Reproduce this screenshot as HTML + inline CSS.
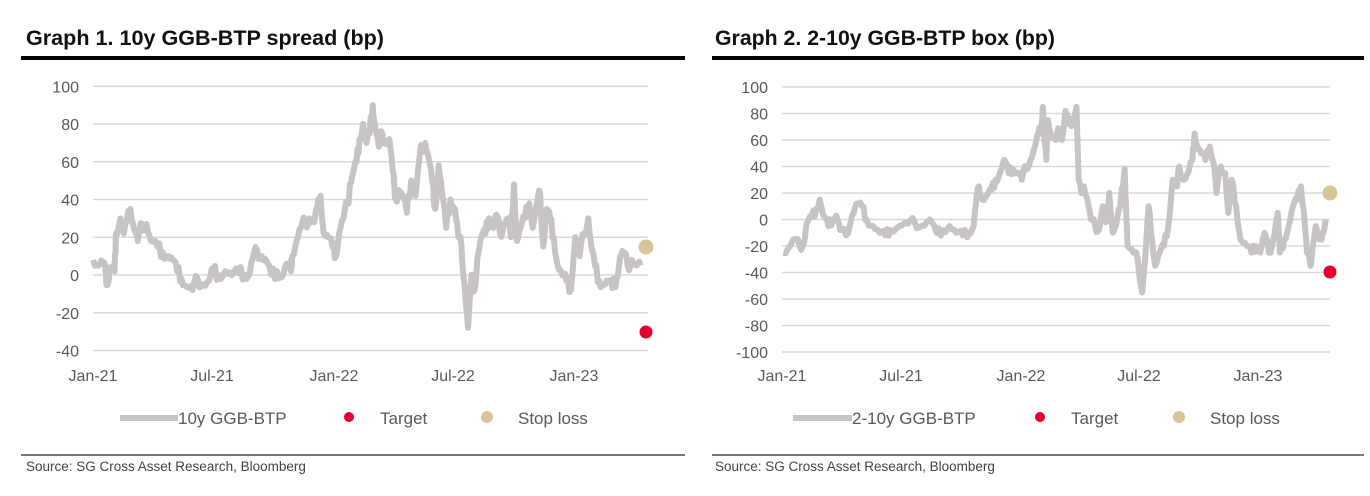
<!DOCTYPE html>
<html><head><meta charset="utf-8"><style>
body{margin:0;background:#fff;width:1370px;height:496px;overflow:hidden}
svg{position:absolute;left:0;top:0}
text{font-family:"Liberation Sans",sans-serif}
</style></head><body>
<svg width="1370" height="496" viewBox="0 0 1370 496" id="s">
<rect width="1370" height="496" fill="#fff"/>
<text x="26" y="45" font-size="21" font-weight="bold" fill="#111" textLength="358" lengthAdjust="spacingAndGlyphs">Graph 1. 10y GGB-BTP spread (bp)</text>
<rect x="21" y="56" width="664" height="4" fill="#000"/>
<text x="715" y="45" font-size="21" font-weight="bold" fill="#111" textLength="340" lengthAdjust="spacingAndGlyphs">Graph 2. 2-10y GGB-BTP box (bp)</text>
<rect x="712" y="56" width="652" height="4" fill="#000"/>
<g id="g1" font-size="16" fill="#595959"></g>
<g id="g2" font-size="16" fill="#595959"></g>
<line x1="120" y1="418" x2="178" y2="418" stroke="#c8c4c4" stroke-width="6"/>
<text x="178" y="424" font-size="17" fill="#595959">10y GGB-BTP</text>
<circle cx="349" cy="417" r="5" fill="#e4002b"/>
<text x="380" y="424" font-size="17" fill="#595959">Target</text>
<circle cx="487" cy="417" r="6" fill="#d8c69a"/>
<text x="518" y="424" font-size="17" fill="#595959">Stop loss</text>
<line x1="793" y1="418" x2="852" y2="418" stroke="#c8c4c4" stroke-width="6"/>
<text x="852" y="424" font-size="17" fill="#595959">2-10y GGB-BTP</text>
<circle cx="1040" cy="417" r="5" fill="#e4002b"/>
<text x="1071" y="424" font-size="17" fill="#595959">Target</text>
<circle cx="1179" cy="417" r="6" fill="#d8c69a"/>
<text x="1210" y="424" font-size="17" fill="#595959">Stop loss</text>
<rect x="21" y="454" width="664" height="2" fill="#777"/>
<rect x="712" y="454" width="652" height="2" fill="#777"/>
<text x="26" y="471" font-size="13.5" fill="#444">Source: SG Cross Asset Research, Bloomberg</text>
<text x="715" y="471" font-size="13.5" fill="#444">Source: SG Cross Asset Research, Bloomberg</text>
</svg>
<script>
var NS="http://www.w3.org/2000/svg";
function el(p,t,a,txt){var e=document.createElementNS(NS,t);for(var k in a)e.setAttribute(k,a[k]);if(txt!==undefined)e.textContent=txt;p.appendChild(e);return e;}
function chart(g,x0,x1,ticks,yf,xl,xlx,data,off,tgt,stp){
 g=document.getElementById(g);
 ticks.forEach(function(v){var y=yf(v);el(g,'line',{x1:x0,x2:x1,y1:y,y2:y,stroke:'#d9d9d9','stroke-width':1.5});el(g,'text',{x:x0-14,y:y+6,'text-anchor':'end'},v);});
 xl.forEach(function(l,i){el(g,'text',{x:xlx[i],y:381,'text-anchor':'middle'},l);});
 var pts=[];
 for(var i=0;i<data.length-2;i+=2){
  var xa=off+data[i]*0.4374,xb=off+data[i+2]*0.4374,va=data[i+1],vb=data[i+3];
  for(var k=0;k<3;k++){var t=k/3;var j=(k==0?0:((i*7+k*13)%11-5)*0.7);
   pts.push((xa+(xb-xa)*t).toFixed(1)+','+yf(va+(vb-va)*t+j).toFixed(1));}
 }
 pts.push((off+data[data.length-2]*0.4374).toFixed(1)+','+yf(data[data.length-1]).toFixed(1));
 el(g,'polyline',{points:pts.join(' '),fill:'none',stroke:'#c8c4c4','stroke-width':6,'stroke-linejoin':'round'});
 el(g,'circle',{cx:tgt[0],cy:tgt[1],r:6.5,fill:'#e4002b'});
 el(g,'circle',{cx:stp[0],cy:stp[1],r:7.5,fill:'#d8c69a'});
}
var d1=[213,8,225,5,235,7,242,0,246,-5,252,4,262,2,265,22,275,30,283,22,290,28,298,35,306,25,315,18,325,27,335,27,345,18,360,15,372,12,385,10,395,8,405,2,415,-2,425,-6,440,-8,452,-2,465,-5,478,-3,487,3,500,0,515,2,530,0,545,1,560,0,570,0,577,8,588,13,598,10,608,8,620,0,633,2,645,-1,655,6,665,2,668,10,678,18,688,25,698,28,708,30,718,28,725,35,733,42,740,22,750,20,760,15,768,10,775,22,785,30,795,38,800,48,808,55,815,60,822,72,830,80,838,70,845,75,852,90,858,78,866,68,874,75,882,70,890,72,898,55,905,40,912,45,920,42,930,33,940,50,950,42,958,60,965,68,972,70,980,62,988,50,995,35,1003,58,1010,45,1020,25,1030,40,1040,35,1048,20,1055,15,1062,-5,1070,-28,1078,0,1085,-8,1092,10,1100,20,1110,22,1118,30,1128,25,1135,32,1143,22,1152,27,1160,30,1168,20,1175,48,1182,18,1190,25,1200,30,1210,38,1218,25,1228,38,1235,43,1242,15,1250,35,1258,30,1266,20,1275,5,1285,0,1295,-3,1305,-8,1315,20,1325,10,1335,22,1345,30,1352,15,1360,5,1370,-3,1380,-5,1390,-3,1400,-7,1410,-2,1418,10,1425,12,1435,5,1445,8,1455,5,1465,5];
var d2=[225,-25,240,-20,250,-15,262,-20,272,-18,278,-3,290,2,300,8,308,15,316,3,328,-5,338,0,346,3,355,-8,368,-12,382,3,392,12,405,10,415,0,430,-5,445,-10,458,-12,470,-8,490,-5,510,-3,525,-2,540,-5,560,0,575,-10,590,-8,605,-5,620,-10,635,-12,650,-10,660,-5,665,12,672,25,680,15,690,18,700,22,710,30,720,35,730,45,740,35,750,38,765,35,770,30,780,40,790,45,800,55,808,65,815,70,818,85,822,60,826,45,830,75,838,62,848,60,856,68,862,60,870,82,878,72,886,75,895,85,900,30,906,20,912,25,920,15,928,0,938,-5,946,-8,955,10,962,-2,970,20,978,-10,985,-5,995,10,1005,38,1012,-20,1025,-25,1035,-30,1045,-55,1052,-30,1060,10,1068,-15,1075,-35,1085,-25,1095,-20,1105,-5,1115,30,1125,25,1130,40,1140,30,1150,35,1160,45,1165,65,1172,55,1180,50,1190,45,1200,55,1210,40,1215,20,1225,40,1235,35,1242,5,1250,30,1260,10,1270,-15,1285,-20,1295,-25,1305,-20,1315,-25,1325,-10,1335,-25,1345,-15,1355,5,1360,-25,1370,-15,1380,-5,1390,10,1400,15,1408,25,1415,5,1422,-25,1430,-35,1435,-20,1442,-5,1450,-15,1458,-10,1465,0];
chart('g1',93,648,[100,80,60,40,20,0,-20,-40],function(v){return 275-v*1.8875;},['Jan-21','Jul-21','Jan-22','Jul-22','Jan-23'],[93,212,334,453,574],d1,0,[646,332],[646,247]);
chart('g2',782,1330,[100,80,60,40,20,0,-20,-40,-60,-80,-100],function(v){return 219.5-v*1.325;},['Jan-21','Jul-21','Jan-22','Jul-22','Jan-23'],[782,901,1021,1139,1258],d2,685,[1330,272],[1330,193]);
</script>
</body></html>
